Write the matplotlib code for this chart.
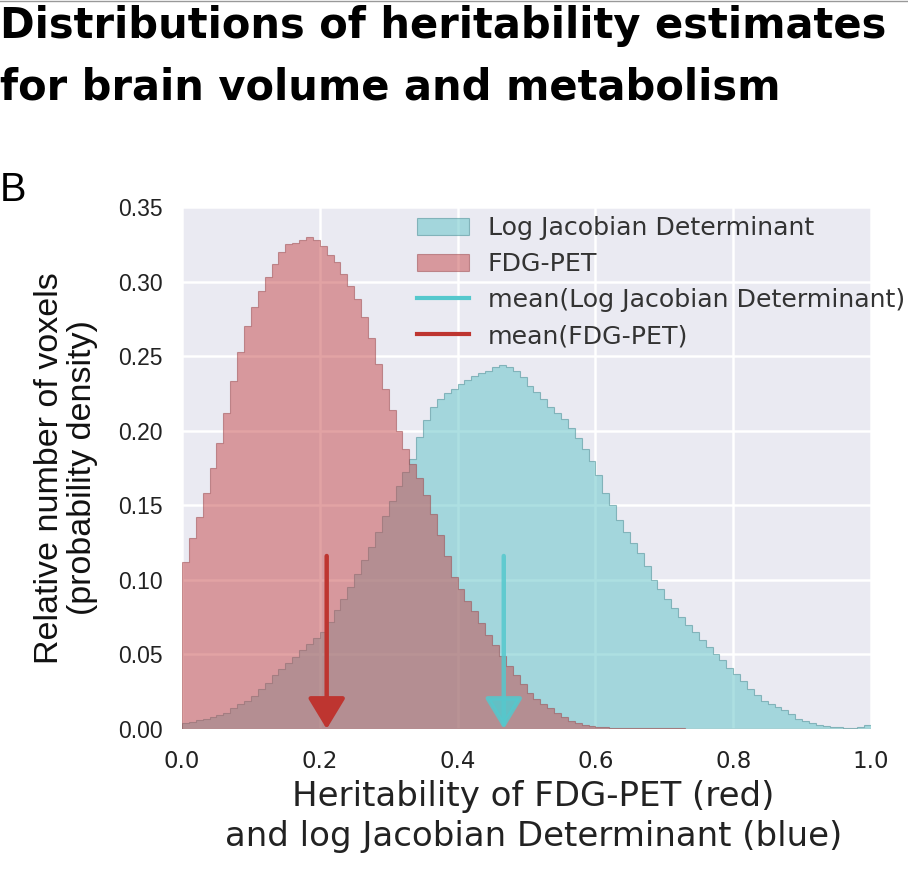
import numpy as np
import matplotlib
matplotlib.use("Agg")
import matplotlib.pyplot as plt
from matplotlib.lines import Line2D

# bin grid (width 0.01) and densities
bin_edges = np.round(np.arange(0, 1.0001, 0.01), 2)
bin_centers = bin_edges[:-1] + 0.005

ljd_density = [
    0.004, 0.005, 0.006, 0.007, 0.008, 0.0095, 0.011, 0.014, 0.017, 0.019,
    0.022, 0.027, 0.031, 0.036, 0.040, 0.044, 0.048, 0.053, 0.057, 0.061,
    0.065, 0.072, 0.080, 0.087, 0.095, 0.104, 0.113, 0.122, 0.132, 0.143,
    0.153, 0.163, 0.172, 0.181, 0.196, 0.207, 0.216, 0.221, 0.225, 0.228,
    0.231, 0.234, 0.237, 0.239, 0.240, 0.243, 0.244, 0.243, 0.240, 0.236,
    0.230, 0.226, 0.221, 0.216, 0.212, 0.208, 0.202, 0.195, 0.188, 0.180,
    0.170, 0.158, 0.150, 0.140, 0.132, 0.125, 0.118, 0.109, 0.100, 0.094,
    0.087, 0.081, 0.075, 0.070, 0.065, 0.060, 0.055, 0.050, 0.046, 0.041,
    0.037, 0.032, 0.027, 0.023, 0.019, 0.017, 0.015, 0.013, 0.010, 0.007,
    0.0055, 0.004, 0.003, 0.002, 0.0015, 0.0012, 0.001, 0.001, 0.0012, 0.003,
]

fdg_density = [
    0.112, 0.128, 0.142, 0.158, 0.175, 0.192, 0.212, 0.233, 0.253, 0.270,
    0.283, 0.294, 0.303, 0.312, 0.320, 0.325, 0.326, 0.328, 0.330, 0.328,
    0.324, 0.318, 0.313, 0.305, 0.297, 0.288, 0.276, 0.262, 0.245, 0.228,
    0.214, 0.200, 0.188, 0.178, 0.168, 0.157, 0.144, 0.130, 0.116, 0.102,
    0.094, 0.086, 0.079, 0.071, 0.063, 0.056, 0.049, 0.042, 0.036, 0.030,
    0.024, 0.020, 0.017, 0.014, 0.011, 0.008, 0.0055, 0.004, 0.003, 0.002,
    0.0015, 0.0012, 0.001, 0.001, 0.0009, 0.0008, 0.0007, 0.0006, 0.0006, 0.0005,
    0.0005, 0.0004, 0.0004, 0.0003, 0.0003, 0.0003, 0.0002, 0.0002, 0.0002, 0.0002,
    0.0001, 0.0001, 0.0001, 0.0001, 0.0001, 0.0001, 0.0001, 0.0001, 0.0001, 0.0001,
    0.0001, 0.0001, 0.0001, 0.0001, 0.0001, 0.0001, 0.0001, 0.0001, 0.0001, 0.0001,
]

mean_fdg = 0.21
mean_ljd = 0.467
arrow_top = 0.116

series_labels = ["Log Jacobian Determinant", "FDG-PET",
                 "mean(Log Jacobian Determinant)", "mean(FDG-PET)"]
x_ticks = [0.0, 0.2, 0.4, 0.6, 0.8, 1.0]
y_ticks = [0.00, 0.05, 0.10, 0.15, 0.20, 0.25, 0.30, 0.35]

cyan_fill = "#6AC6CA"
red_fill = "#C6484A"
cyan_arrow = "#55C8CD"
red_arrow = "#BE3530"

fig = plt.figure(figsize=(9.08, 8.74), dpi=100)
ax = fig.add_axes([182/908, 1 - 729/874, 689/908, 522/874])
ax.set_facecolor("#EAEAF2")
for s in ax.spines.values():
    s.set_visible(False)
ax.set_axisbelow(True)
ax.grid(color="white", linewidth=1.8)

ax.hist(bin_centers, bins=bin_edges, weights=ljd_density, histtype="stepfilled",
        facecolor=cyan_fill, alpha=0.55, edgecolor="#4a8f96", linewidth=0.8,
        label=series_labels[0])
ax.hist(bin_centers, bins=bin_edges, weights=fdg_density, histtype="stepfilled",
        facecolor=red_fill, alpha=0.5, edgecolor="#9a4448", linewidth=0.8,
        label=series_labels[1])

# mean arrows
for m, c, a in [(mean_fdg, red_arrow, 1.0), (mean_ljd, cyan_arrow, 0.85)]:
    ax.annotate("", xy=(m, 0.0), xytext=(m, arrow_top),
                arrowprops=dict(arrowstyle="-|>,head_length=1.9,head_width=1.15",
                                color=c, lw=3.2, alpha=a, shrinkA=0, shrinkB=0))

ax.set_xlim(0, 1.0)
ax.set_ylim(0, 0.35)
ax.set_xticks(x_ticks)
ax.set_yticks(y_ticks)
ax.set_xticklabels([f"{v:.1f}" for v in x_ticks], family="DejaVu Sans", fontsize=16.5)
ax.set_yticklabels([f"{v:.2f}" for v in y_ticks], family="Liberation Sans", fontsize=16.5)
ax.tick_params(axis="x", length=0, pad=15, colors="#222222")
ax.tick_params(axis="y", length=0, pad=14, colors="#222222")

ax.set_xlabel("Heritability of FDG-PET (red)\nand log Jacobian Determinant (blue)",
              family="DejaVu Sans", fontsize=24.5, linespacing=1.25, color="#222222")
ax.xaxis.set_label_coords(0.51, -0.098)
ax.set_ylabel("Relative number of voxels\n(probability density)",
              family="Liberation Sans", fontsize=24.5, linespacing=1.1, color="#111111")
ax.yaxis.set_label_coords(-0.122, 0.5)

handles, labels = ax.get_legend_handles_labels()
handles += [Line2D([], [], color=cyan_arrow, lw=3),
            Line2D([], [], color=red_arrow, lw=3)]
labels += series_labels[2:]
leg = ax.legend(handles, labels, loc="upper left", bbox_to_anchor=(0.341, 0.982),
                frameon=False, borderpad=0, borderaxespad=0, handlelength=2.05,
                handletextpad=0.76, labelspacing=0.47,
                prop={"family": "DejaVu Sans", "size": 18.2})
for t in leg.get_texts():
    t.set_color("#333333")

# title block and panel letter
fig.text(0.0, 1 - 38/874, "Distributions of heritability estimates",
         family="DejaVu Sans", fontweight="bold", fontsize=30, va="baseline")
fig.text(0.0, 1 - 99/874, "for brain volume and metabolism",
         family="DejaVu Sans", fontweight="bold", fontsize=30, va="baseline")
fig.text(0.0, 1 - 201/874, "B", family="Liberation Sans", fontsize=28.5, va="baseline")
fig.add_artist(Line2D([0, 1], [0.999, 0.999], color="#999999", lw=1))

fig.savefig("out.png", dpi=100)
